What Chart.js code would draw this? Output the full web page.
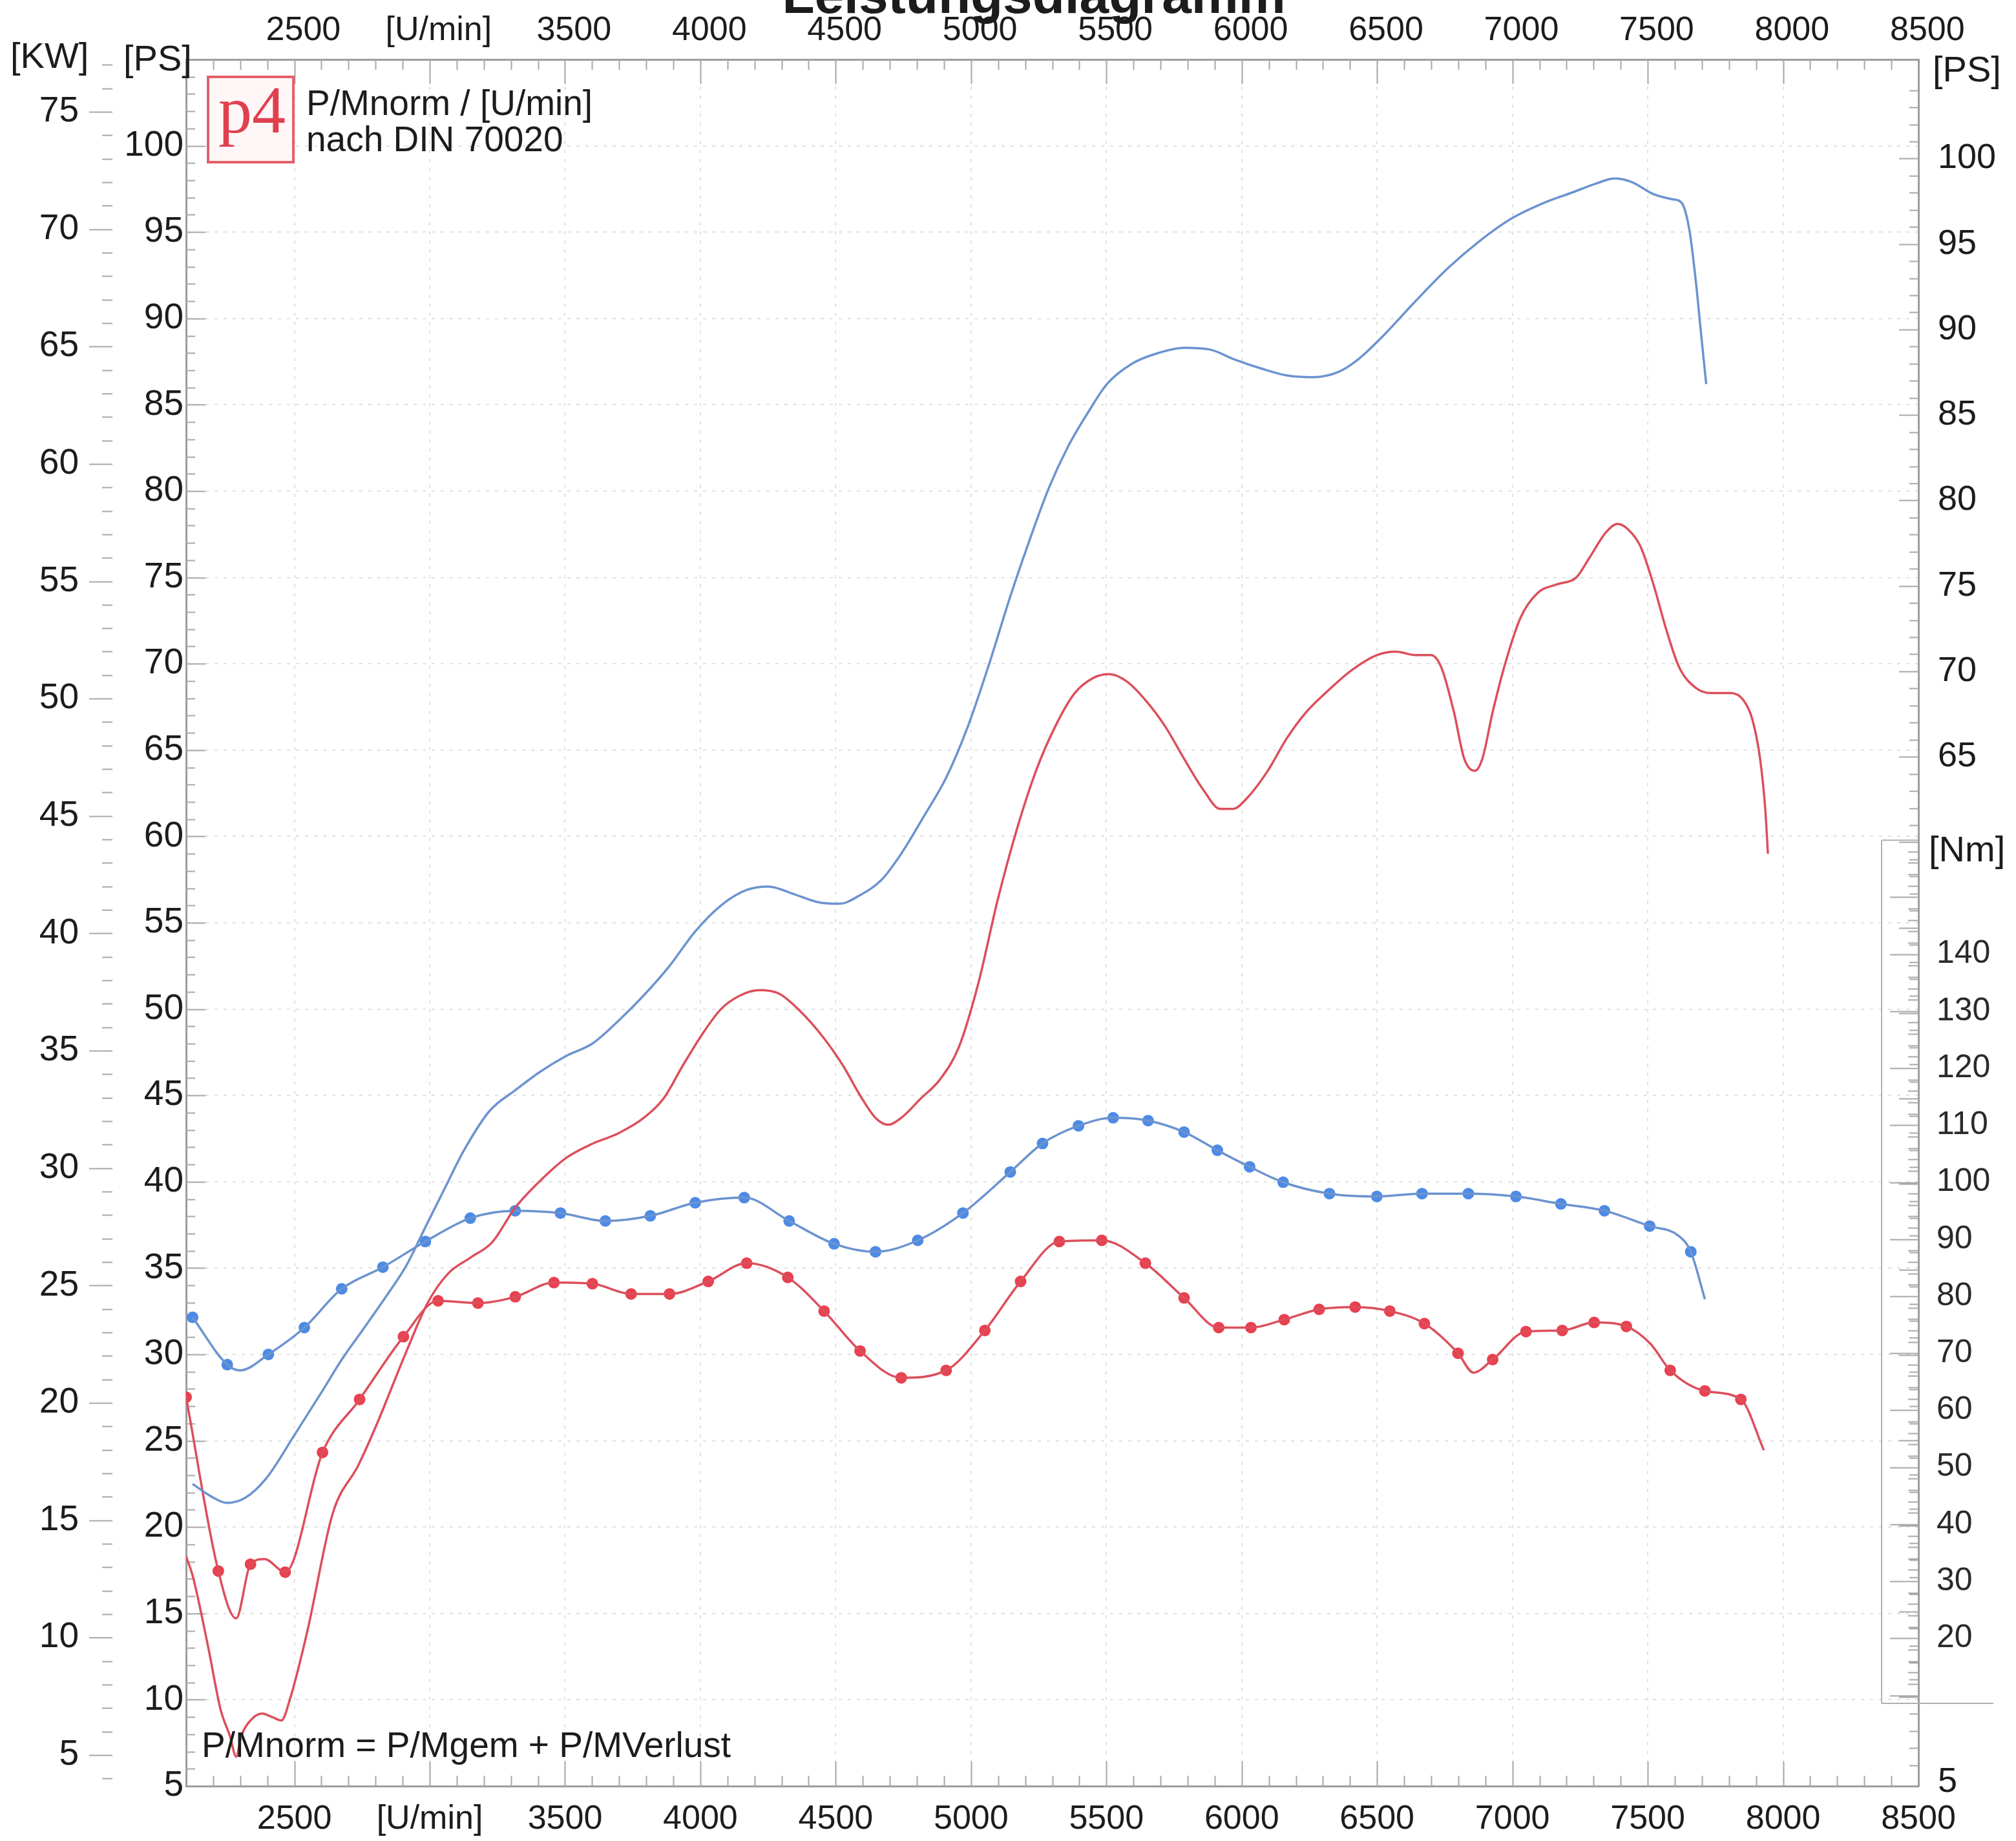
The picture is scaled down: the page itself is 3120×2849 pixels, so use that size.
<!DOCTYPE html>
<html><head><meta charset="utf-8">
<script src="https://cdn.jsdelivr.net/npm/chart.js@4.4.1/dist/chart.umd.min.js"></script>
<style>html,body{margin:0;padding:0;background:#fff;}#wrap{width:3120px;height:2849px;}</style>
</head><body><div id="wrap"><canvas id="c" width="3120" height="2849"></canvas></div>
<script>
// ---------------- data ----------------
const xTickValues = [2500,3000,3500,4000,4500,5000,5500,6000,6500,7000,7500,8000,8500];
const xTickLabels = ['2500','[U/min]','3500','4000','4500','5000','5500','6000','6500','7000','7500','8000','8500'];
const psTickValues = [5,10,15,20,25,30,35,40,45,50,55,60,65,70,75,80,85,90,95,100];
const psRightTickValues = [5,65,70,75,80,85,90,95,100];
const kwTickValues = [5,10,15,20,25,30,35,40,45,50,55,60,65,70,75];
const nmTickValues = [20,30,40,50,60,70,80,90,100,110,120,130,140];

// blue power curve [PS]
const bluePowerRpm = [2124,2190,2252,2319,2395,2499,2604,2675,2756,2832,2912,2988,3055,3126,3221,3316,3411,3506,3601,3696,3791,3886,3981,4076,4171,4252,4338,4433,4513,4590,4670,4742,4827,4908,4989,5065,5145,5217,5288,5359,5430,5502,5597,5692,5787,5882,5977,6072,6167,6262,6357,6428,6523,6642,6761,6880,6998,7117,7222,7307,7378,7440,7521,7592,7625,7654,7678,7697,7716];
const bluePowerPS  = [22.5,21.8,21.4,21.7,22.8,25.3,27.9,29.7,31.5,33.2,35.1,37.5,39.6,41.8,44.1,45.3,46.4,47.3,48.0,49.3,50.8,52.5,54.5,56.0,56.9,57.1,56.7,56.2,56.1,56.6,57.5,59.0,61.2,63.4,66.4,69.9,73.9,77.2,80.2,82.6,84.5,86.2,87.4,88.0,88.3,88.2,87.6,87.1,86.7,86.6,86.9,87.6,89.0,91.0,92.9,94.5,95.8,96.7,97.3,97.8,98.1,97.9,97.2,96.9,96.7,95.1,92.1,89.1,86.2];

// red power curve [PS]
const redPowerRpm = [2100,2124,2181,2228,2262,2285,2304,2338,2380,2418,2452,2485,2547,2642,2737,2803,2912,2993,3069,3150,3231,3316,3411,3506,3601,3696,3791,3863,3934,4005,4076,4148,4219,4290,4361,4457,4528,4590,4647,4694,4742,4813,4884,4955,5027,5098,5169,5240,5312,5383,5454,5511,5573,5644,5716,5787,5858,5920,5967,6024,6096,6167,6238,6309,6404,6499,6571,6642,6699,6737,6784,6822,6861,6889,6927,6975,7031,7093,7164,7236,7283,7345,7388,7426,7473,7521,7568,7616,7678,7735,7806,7853,7886,7915,7934,7944];
const redPowerPS  = [18.3,17.2,13.1,9.4,7.9,6.7,7.9,8.8,9.2,9.0,8.8,10.1,13.9,20.8,23.6,25.9,30.1,33.0,34.7,35.6,36.5,38.5,40.1,41.4,42.2,42.8,43.7,44.8,46.7,48.5,50.0,50.8,51.1,50.9,50.0,48.3,46.7,45.0,43.7,43.3,43.7,44.8,45.9,47.8,51.5,56.3,60.4,63.8,66.4,68.3,69.2,69.4,69.0,67.9,66.4,64.5,62.7,61.6,61.6,62.3,63.8,65.7,67.2,68.3,69.6,70.5,70.7,70.5,70.5,69.8,67.2,64.5,63.8,64.5,67.2,70.1,72.7,74.1,74.6,75.0,76.1,77.6,78.1,77.8,76.8,74.6,72.0,69.8,68.6,68.3,68.3,67.9,66.8,64.5,61.6,59.0];

// blue torque [Nm] - measured dots and intermediate line points
const blueTorqueDotRpm = [2124,2252,2404,2537,2675,2827,2984,3150,3316,3483,3649,3815,3981,4162,4328,4494,4647,4803,4970,5145,5264,5397,5525,5654,5787,5910,6029,6153,6324,6499,6666,6837,7013,7179,7340,7507,7659];
const blueTorqueDotNm  = [76.3,68.0,69.8,74.5,81.3,85.1,89.6,93.7,95.0,94.6,93.2,94.1,96.4,97.3,93.2,89.2,87.8,89.8,94.6,101.8,106.8,109.9,111.3,110.8,108.8,105.6,102.7,100.0,98.0,97.5,98.0,98.0,97.5,96.2,95.0,92.3,87.8];
const blueTorqueMidRpm = [2300,7611,7711];
const blueTorqueMidNm  = [67.0,90.7,79.5];

// red torque [Nm]
const redTorqueDotRpm = [2100,2219,2338,2466,2604,2741,2903,3031,3178,3316,3459,3601,3744,3886,4029,4171,4323,4457,4590,4742,4908,5051,5183,5326,5483,5644,5787,5915,6034,6157,6286,6419,6547,6675,6799,6927,7050,7184,7302,7421,7583,7711,7844];
const redTorqueDotNm  = [62.3,31.8,33.0,31.6,52.6,61.9,72.9,79.2,78.8,79.9,82.4,82.2,80.4,80.4,82.6,85.8,83.3,77.4,70.4,65.7,67.0,74.0,82.6,89.6,89.8,85.8,79.7,74.5,74.5,75.9,77.7,78.1,77.4,75.2,70.0,68.9,73.8,74.0,75.4,74.7,67.0,63.4,61.9];
const redTorqueMidRpm = [2285,2390,6856,7511,7929];
const redTorqueMidNm  = [23.5,33.9,66.6,71.6,53.0];

// ---------------- styling ----------------
const FONT = "'Liberation Sans', Arial, Helvetica, sans-serif";
const TXT = '#1c1c1c';
const BLUE_LINE = '#6b93cf', BLUE_DOT = '#4d8ae6';
const RED_LINE = '#dc4f5c', RED_DOT = '#e8414f';
const GRID = 'rgba(140,140,140,0.26)';
const BORDER = '#9d9d9d';
const TICKC = '#a8a8a8';

function pts(xs, ys){ return xs.map((x,i)=>({x:x, y:ys[i]})); }
function merged(xa, ya, xb, yb){ return pts(xa,ya).concat(pts(xb,yb)).sort((p,q)=>p.x-q.x); }
function fixTicks(values){ return function(scale){ scale.ticks = values.map(v=>({value:v})); }; }

const lineDs = (label, data, axis, color) => ({
  label, data, yAxisID: axis, borderColor: color, borderWidth: 3.5,
  pointRadius: 0, cubicInterpolationMode: 'monotone', fill: false
});
const dotDs = (label, data, axis, color) => ({
  label, data, yAxisID: axis, showLine: false, pointRadius: 9,
  pointBackgroundColor: color, pointBorderWidth: 0, borderColor: color
});

const decor = {
  id: 'decor',
  beforeDatasetsDraw(chart){
    const ctx = chart.ctx, a = chart.chartArea, s = chart.scales;
    ctx.save();
    ctx.strokeStyle = TICKC; ctx.lineWidth = 2;
    ctx.beginPath();
    for (let r = 2200; r <= 8400; r += 100) {
      const px = Math.round(s.x.getPixelForValue(r)) + 0.5;
      const L = (r % 500 === 0) ? 38 : 16;
      ctx.moveTo(px, a.bottom); ctx.lineTo(px, a.bottom - L);
      ctx.moveTo(px, a.top); ctx.lineTo(px, a.top + L);
    }
    for (let v = 6; v <= 104; v++) {
      const L = (v % 5 === 0) ? 30 : 14;
      const py = Math.round(s.ps.getPixelForValue(v)) + 0.5;
      ctx.moveTo(a.left, py); ctx.lineTo(a.left + L, py);
      const pr = Math.round(s.psR.getPixelForValue(v)) + 0.5;
      ctx.moveTo(a.right, pr); ctx.lineTo(a.right - L, pr);
    }
    for (let v = 4; v <= 77; v++) {
      const py = Math.round(s.kw.getPixelForValue(v)) + 0.5;
      const x0 = (v % 5 === 0) ? s.kw.right - 42 : s.kw.right - 22;
      ctx.moveTo(x0, py); ctx.lineTo(s.kw.right - 6, py);
    }
    for (let v = 10; v <= 158; v += 2) {
      const py = Math.round(s.nm.getPixelForValue(v)) + 0.5;
      const x0 = (v % 10 === 0) ? a.right - 44 : a.right - 16;
      ctx.moveTo(x0, py); ctx.lineTo(a.right, py);
    }
    ctx.stroke();
    const yTop = s.nm.getPixelForValue(160), yBot = s.nm.getPixelForValue(8.6);
    ctx.strokeStyle = '#b0b0b0'; ctx.lineWidth = 2;
    ctx.beginPath();
    ctx.moveTo(a.right - 57, yTop); ctx.lineTo(a.right, yTop);
    ctx.moveTo(a.right - 57, yTop); ctx.lineTo(a.right - 57, yBot);
    ctx.moveTo(a.right - 57, yBot); ctx.lineTo(a.right + 116, yBot);
    ctx.stroke();
    ctx.restore();
  },
  afterDraw(chart){
    const ctx = chart.ctx, a = chart.chartArea;
    ctx.save();
    ctx.fillStyle = TXT;
    ctx.font = "bold 82px " + FONT;
    ctx.textAlign = 'center'; ctx.textBaseline = 'alphabetic';
    ctx.fillText('Leistungsdiagramm', 1600, 20);
    ctx.font = "56px " + FONT;
    ctx.textAlign = 'left'; ctx.textBaseline = 'middle';
    ctx.fillText('[KW]', 16, 90);
    ctx.fillText('[PS]', 191, 94);
    ctx.fillText('[PS]', a.right + 22, 111);
    ctx.fillText('[Nm]', a.right + 16, 1318);
    ctx.fillStyle = '#fff6f7';
    ctx.fillRect(a.left + 34, a.top + 27, 132, 132);
    ctx.strokeStyle = '#e2606a'; ctx.lineWidth = 4;
    ctx.strokeRect(a.left + 34, a.top + 27, 132, 132);
    ctx.fillStyle = '#e0404e';
    ctx.font = "104px 'Liberation Serif', 'Times New Roman', serif";
    ctx.textAlign = 'left'; ctx.textBaseline = 'alphabetic';
    ctx.fillText('p4', a.left + 50, a.top + 113);
    ctx.fillStyle = TXT;
    ctx.font = "55px " + FONT;
    ctx.textBaseline = 'middle';
    ctx.fillText('P/Mnorm / [U/min]', a.left + 186, a.top + 71);
    ctx.fillText('nach DIN 70020', a.left + 186, a.top + 127);
    ctx.textBaseline = 'alphabetic';
    ctx.fillText('P/Mnorm = P/Mgem + P/MVerlust', a.left + 24, a.bottom - 45);
    ctx.restore();
  }
};

const tickFont = (size) => ({ family: FONT, size: size });

new Chart(document.getElementById('c'), {
  type: 'line',
  data: {
    datasets: [
      lineDs('P norm (blau)', pts(bluePowerRpm, bluePowerPS), 'ps', BLUE_LINE),
      lineDs('P norm (rot)', pts(redPowerRpm, redPowerPS), 'ps', RED_LINE),
      lineDs('M norm (blau)', merged(blueTorqueDotRpm, blueTorqueDotNm, blueTorqueMidRpm, blueTorqueMidNm), 'nm', BLUE_LINE),
      dotDs('M norm Punkte (blau)', pts(blueTorqueDotRpm, blueTorqueDotNm), 'nm', BLUE_DOT),
      lineDs('M norm (rot)', merged(redTorqueDotRpm, redTorqueDotNm, redTorqueMidRpm, redTorqueMidNm), 'nm', RED_LINE),
      dotDs('M norm Punkte (rot)', pts(redTorqueDotRpm, redTorqueDotNm), 'nm', RED_DOT)
    ]
  },
  options: {
    responsive: false, animation: false, devicePixelRatio: 1,
    layout: { padding: 0, autoPadding: false },
    plugins: { legend: { display: false }, title: { display: false }, tooltip: { enabled: false } },
    scales: {
      x: {
        type: 'linear', position: 'bottom', min: 2100, max: 8500,
        afterBuildTicks: fixTicks(xTickValues),
        afterFit: s => { s.height = 85; },
        ticks: { autoSkip: false, maxRotation: 0, minRotation: 0, padding: 20, color: TXT, font: tickFont(52),
                 callback: (v, i) => xTickLabels[i] },
        grid: { drawTicks: false, color: GRID, lineWidth: 2 },
        border: { display: true, color: BORDER, width: 3, dash: [5, 9] }
      },
      xTop: {
        type: 'linear', position: 'top', min: 2067, max: 8467,
        afterBuildTicks: fixTicks(xTickValues),
        afterFit: s => { s.height = 92; },
        ticks: { autoSkip: false, maxRotation: 0, minRotation: 0, padding: 5, color: TXT, font: tickFont(52),
                 callback: (v, i) => xTickLabels[i] },
        grid: { display: false },
        border: { display: true, color: BORDER, width: 3 }
      },
      ps: {
        type: 'linear', position: 'left', weight: 0, min: 5, max: 105,
        afterBuildTicks: fixTicks(psTickValues),
        afterFit: s => { s.width = 108; },
        ticks: { autoSkip: false, padding: 4, color: TXT, font: tickFont(55) },
        grid: { drawTicks: false, color: GRID, lineWidth: 2 },
        border: { display: true, color: BORDER, width: 3, dash: [5, 9] }
      },
      kw: {
        type: 'linear', position: 'left', weight: 1, display: true, min: 5 / 1.35962, max: 105 / 1.35962,
        afterBuildTicks: fixTicks(kwTickValues),
        afterFit: s => { s.width = 180; },
        ticks: { autoSkip: false, padding: 50, color: TXT, font: tickFont(55) },
        grid: { display: false },
        border: { display: false }
      },
      nm: {
        type: 'linear', position: 'right', weight: 0, display: true, min: -5.92, max: 296.94,
        afterBuildTicks: fixTicks(nmTickValues),
        afterFit: s => { s.width = 0; s._computeLabelArea = function(){ return undefined; }; },
        ticks: { autoSkip: false, padding: 20, color: '#2a2a2a', font: tickFont(50) },
        grid: { display: false },
        border: { display: false }
      },
      psR: {
        type: 'linear', position: 'right', weight: 1, display: true, min: 4.78, max: 105.8,
        afterBuildTicks: fixTicks(psRightTickValues),
        afterFit: s => { s.width = 151; },
        ticks: { autoSkip: false, padding: 22, color: TXT, font: tickFont(54) },
        grid: { display: false },
        border: { display: true, color: BORDER, width: 3 }
      }
    }
  },
  plugins: [decor]
});
</script>
</body></html>
